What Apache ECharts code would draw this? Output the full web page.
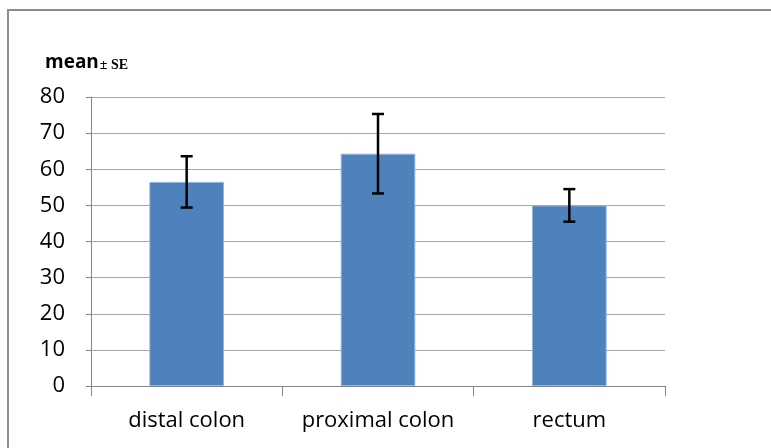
<!DOCTYPE html>
<html>
<head>
<meta charset="utf-8">
<script src="https://cdn.jsdelivr.net/npm/echarts@6/dist/echarts.min.js"></script>
<style>html,body{margin:0;padding:0;background:#fff}#c{width:771px;height:448px}</style>
</head>
<body>
<div id="c"></div>
<script>
var categories = ['distal colon', 'proximal colon', 'rectum'];
var means = [56.5, 64.3, 50.0];
var se = [7.1, 11.0, 4.5];
var yTicks = [0, 10, 20, 30, 40, 50, 60, 70, 80];

var chart = echarts.init(document.getElementById('c'), null, {renderer: 'canvas'});
var errData = categories.map(function (c, i) { return [i, means[i] - se[i], means[i] + se[i]]; });
var font = '"Open Sans", "Liberation Sans", sans-serif';

chart.setOption({
  animation: false,
  grid: {left: 91, right: 106, top: 97, bottom: 62},
  title: {
    text: '{a|mean}{b|± SE}',
    left: 40, top: 48,
    textStyle: {
      rich: {
        a: {fontFamily: font, fontWeight: 'bold', fontSize: 19, color: '#000'},
        b: {fontFamily: 'Liberation Serif, serif', fontWeight: 'bold', fontSize: 14, color: '#000', padding: [5, 0, 0, 1]}
      }
    }
  },
  graphic: [
    {type: 'polyline', shape: {points: [[8, 448], [8, 10], [771, 10]]}, style: {stroke: '#8c8c8c', lineWidth: 2, fill: null}}
  ],
  xAxis: {
    type: 'category',
    data: categories,
    axisLine: {lineStyle: {color: '#868686', width: 1}},
    axisTick: {show: true, length: 10, lineStyle: {color: '#868686'}},
    axisLabel: {fontFamily: font, fontSize: 22, color: '#000', margin: 24, interval: 0, hideOverlap: false}
  },
  yAxis: {
    type: 'value',
    min: yTicks[0], max: yTicks[yTicks.length - 1], interval: 10,
    axisLine: {show: true, lineStyle: {color: '#868686'}},
    axisTick: {show: true, length: 5, lineStyle: {color: '#868686'}},
    axisLabel: {fontFamily: font, fontSize: 22, color: '#000', margin: 26},
    splitLine: {lineStyle: {color: '#a6a6a6', width: 1}}
  },
  series: [
    {
      type: 'bar',
      data: means,
      barWidth: '39%',
      itemStyle: {color: '#4f81bd', borderColor: '#8eb4e3', borderWidth: 1}
    },
    {
      type: 'custom',
      data: errData,
      z: 10,
      renderItem: function (params, api) {
        var x = api.value(0);
        var lo = api.coord([x, api.value(1)]);
        var hi = api.coord([x, api.value(2)]);
        var hw = 6;
        var st = {stroke: '#000', lineWidth: 2.5};
        return {
          type: 'group',
          children: [
            {type: 'line', shape: {x1: lo[0], y1: lo[1], x2: hi[0], y2: hi[1]}, style: st},
            {type: 'line', shape: {x1: lo[0] - hw, y1: lo[1], x2: lo[0] + hw, y2: lo[1]}, style: st},
            {type: 'line', shape: {x1: hi[0] - hw, y1: hi[1], x2: hi[0] + hw, y2: hi[1]}, style: st}
          ]
        };
      }
    }
  ]
});
</script>
</body>
</html>
